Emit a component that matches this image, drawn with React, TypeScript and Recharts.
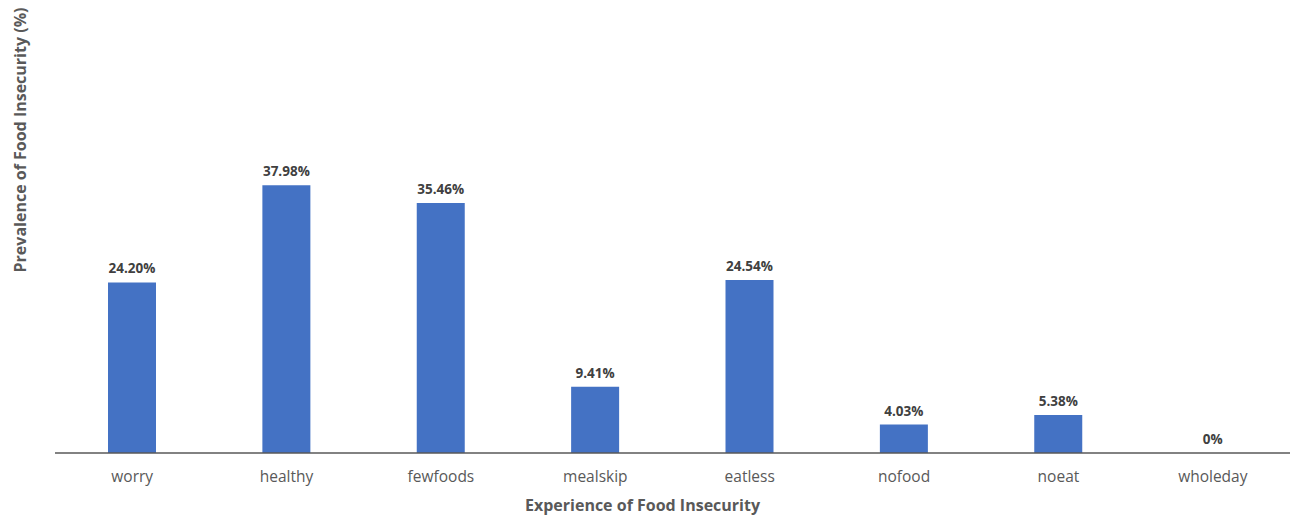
import { BarChart, Bar, XAxis, YAxis, LabelList } from 'recharts'

// share of households reporting each experience
const categories = ['worry', 'healthy', 'fewfoods', 'mealskip', 'eatless', 'nofood', 'noeat', 'wholeday']
const prevalence = [24.2, 37.98, 35.46, 9.41, 24.54, 4.03, 5.38, 0]

const data = categories.map((name, i) => ({ name, value: prevalence[i] }))

const FONT = '"Open Sans", "Noto Sans", sans-serif'
const BAR_COLOR = '#4472C4'
const TEXT_GREY = '#595959'

const formatPct = (v: number) => (v === 0 ? '0%' : `${v.toFixed(2)}%`)

export default function App() {
  return (
    <div style={{ position: 'absolute', left: 0, top: 0, background: '#fff' }}>
      <BarChart
        width={1291}
        height={516}
        data={data}
        margin={{ top: 30, right: 1, left: 0, bottom: 0 }}
        style={{ fontFamily: FONT }}
      >
        <XAxis
          dataKey="name"
          height={63}
          tickLine={false}
          tickSize={0}
          tickMargin={18}
          axisLine={{ stroke: '#595959', strokeWidth: 1.3 }}
          tick={{ fill: TEXT_GREY, fontSize: 15.5 }}
          label={{
            content: ({ viewBox }: any) => (
              <text
                x={viewBox.x + viewBox.width / 2 - 30}
                y={viewBox.y + 58}
                textAnchor="middle"
                fill={TEXT_GREY}
                fontSize={16}
                fontWeight="bold"
              >
                Experience of Food Insecurity
              </text>
            ),
          }}
        />
        <YAxis
          width={55}
          domain={[0, 60]}
          axisLine={false}
          tickLine={false}
          tick={false}
          label={{
            content: ({ viewBox }: any) => (
              <text
                x={0}
                y={0}
                transform={`translate(${viewBox.x + 26}, 140) rotate(-90)`}
                textAnchor="middle"
                fill={TEXT_GREY}
                fontSize={16}
                fontWeight="bold"
              >
                Prevalence of Food Insecurity (%)
              </text>
            ),
          }}
        />
        {/* tiny minPointSize keeps the zero bar (and its label) in the layout */}
        <Bar dataKey="value" fill={BAR_COLOR} barSize={48} minPointSize={0.01} isAnimationActive={false}>
          <LabelList
            dataKey="value"
            position="top"
            offset={9}
            formatter={(v: any) => formatPct(Number(v))}
            style={{ fill: '#404040', fontSize: 13.5, fontWeight: 'bold', fontFamily: FONT }}
          />
        </Bar>
      </BarChart>
    </div>
  )
}
